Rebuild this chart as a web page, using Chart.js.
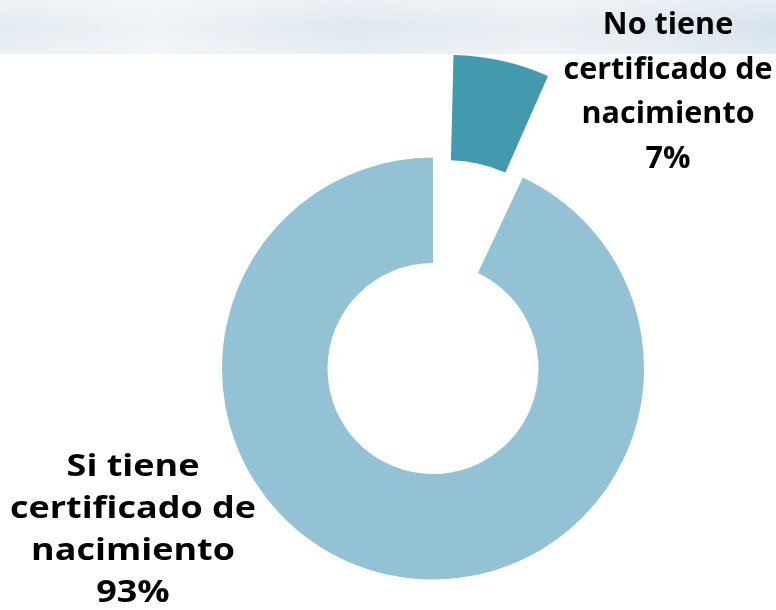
<!DOCTYPE html>
<html>
<head>
<meta charset="utf-8">
<script src="https://cdn.jsdelivr.net/npm/chart.js@4.4.1/dist/chart.umd.min.js"></script>
<style>
  html, body { margin: 0; padding: 0; background: #fff; }
  #wrap { width: 776px; height: 610px; position: relative; }
</style>
</head>
<body>
<div id="wrap"><canvas id="myChart" width="776" height="610"></canvas></div>
<script>
// data
const categories = ['No tiene certificado de nacimiento', 'Si tiene certificado de nacimiento']
const shares = [7, 93]
const labelLines = [
  ['No tiene', 'certificado de', 'nacimiento', '7%'],
  ['Si tiene', 'certificado de', 'nacimiento', '93%']
]

const sliceColors = ['#4399ae', '#92c2d3']

// sky strip at the top + slice labels
const decor = {
  id: 'decor',
  beforeDraw (chart) {
    const c = chart.ctx
    c.save()
    const g = c.createLinearGradient(0, 0, 776, 0)
    g.addColorStop(0, '#e3ebf1')
    g.addColorStop(0.2, '#eef3f7')
    g.addColorStop(0.45, '#dfe8ef')
    g.addColorStop(0.7, '#e9eff4')
    g.addColorStop(1, '#d7e3ec')
    c.fillStyle = g
    c.fillRect(0, 0, 776, 54)
    const v = c.createLinearGradient(0, 0, 0, 54)
    v.addColorStop(0, 'rgba(255,255,255,0.35)')
    v.addColorStop(0.5, 'rgba(255,255,255,0)')
    v.addColorStop(1, 'rgba(255,255,255,0.25)')
    c.fillStyle = v
    c.fillRect(0, 0, 776, 54)
    c.restore()
  },
  afterDraw (chart) {
    const c = chart.ctx
    const spots = [
      { x: 668, y: 34, gap: 44.5, size: 30, width: 209 },
      { x: 133, y: 476, gap: 42, size: 30, width: 246 }
    ]
    c.save()
    c.fillStyle = '#000'
    c.textAlign = 'center'
    c.textBaseline = 'alphabetic'
    labelLines.forEach((lines, i) => {
      const s = spots[i]
      c.font = 'bold ' + s.size + 'px "Open Sans"'
      // stretch so the widest line matches the reference width
      const stretch = s.width / c.measureText(lines[1]).width
      lines.forEach((t, k) => {
        c.save()
        c.translate(s.x, s.y + k * s.gap)
        c.scale(stretch, 1)
        c.fillText(t, 0, 0)
        c.restore()
      })
    })
    c.restore()
  }
}

const ctx = document.querySelector('#myChart')
const myChart = new Chart(ctx, {
  type: 'doughnut',
  data: {
    labels: categories,
    datasets: [{
      data: shares,
      backgroundColor: sliceColors,
      borderWidth: 0,
      offset: [265, 0]
    }]
  },
  options: {
    responsive: false,
    animation: false,
    radius: 211,
    cutout: '50%',
    layout: { padding: { left: 90, right: 0, top: 127, bottom: 0 } },
    plugins: {
      legend: { display: false },
      tooltip: { enabled: false }
    }
  },
  plugins: [decor]
})
</script>
</body>
</html>
